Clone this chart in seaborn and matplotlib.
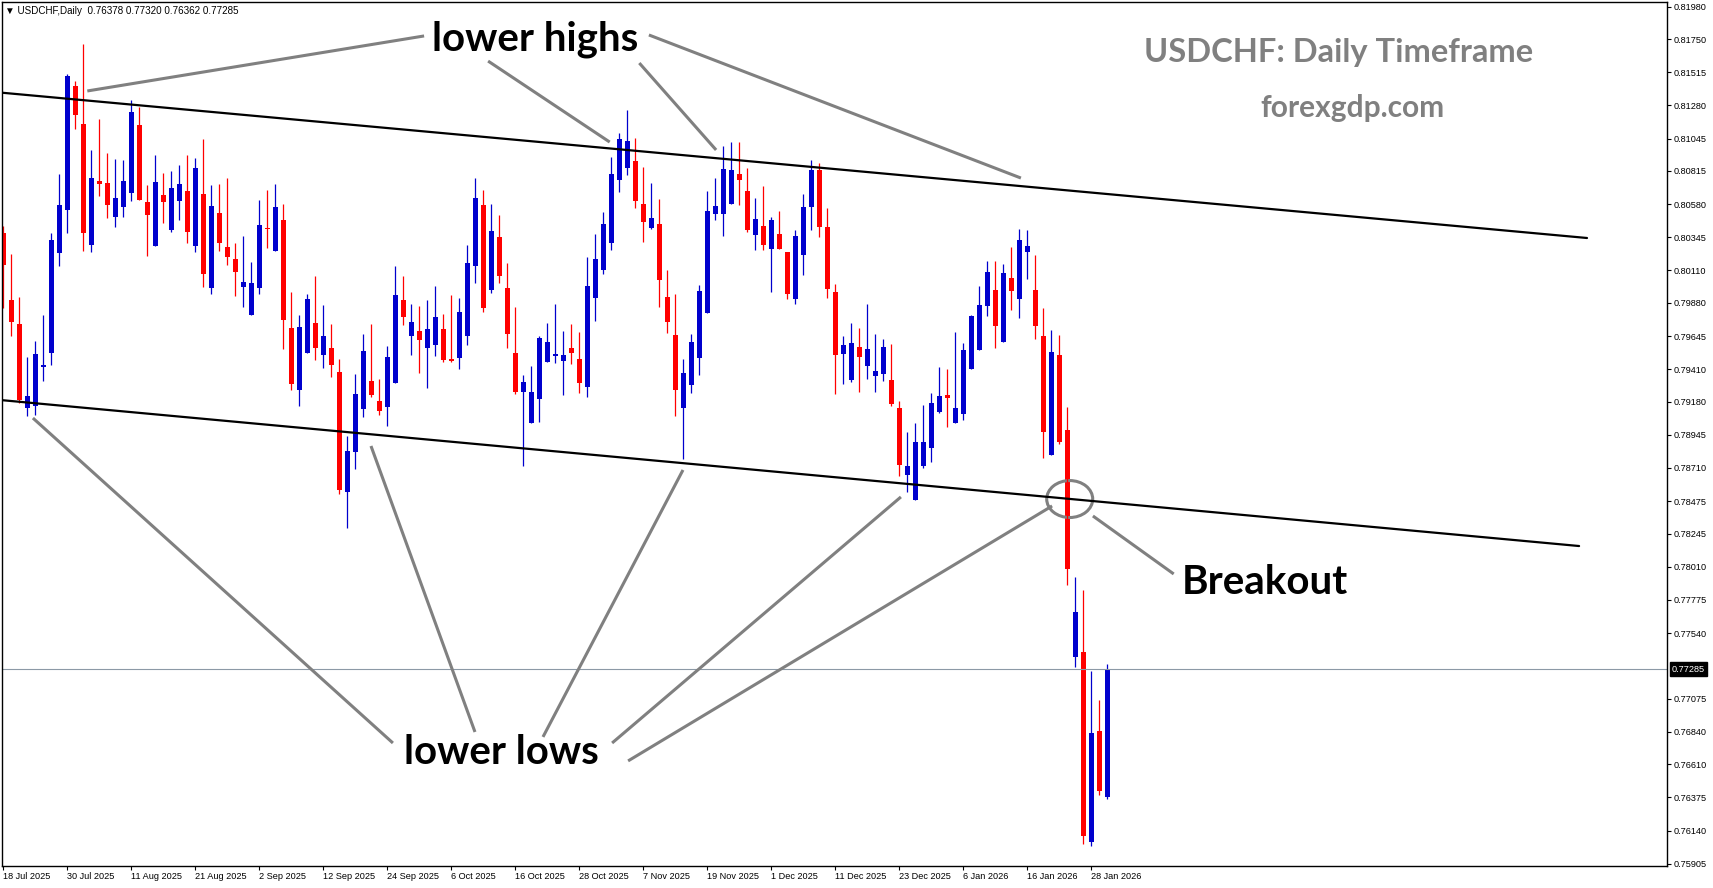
import numpy as np
import matplotlib
matplotlib.use("Agg")
import matplotlib.pyplot as plt
import matplotlib.transforms as mtransforms
from matplotlib.patches import Ellipse
import seaborn as sns

# Daily candles USDCHF, 18 Jul 2025 -> 30 Jan 2026
opens = [0.80378, 0.79901, 0.79731, 0.79138, 0.79152, 0.79429, 0.79528, 0.80236, 0.80541, 0.81417,
         0.81148, 0.80293, 0.80744, 0.80730, 0.80491, 0.80562, 0.80662, 0.81141, 0.80595, 0.80286,
         0.80645, 0.80399, 0.80605, 0.80673, 0.80286, 0.80652, 0.79988, 0.80517, 0.80276, 0.80191,
         0.79995, 0.79797, 0.79988, 0.80411, 0.80250, 0.80468, 0.79702, 0.79265, 0.79528, 0.79740,
         0.79514, 0.79561, 0.79391, 0.78543, 0.78826, 0.79131, 0.79327, 0.79188, 0.79145, 0.79315,
         0.79901, 0.79648, 0.79681, 0.79563, 0.79584, 0.79695, 0.79483, 0.79492, 0.79648, 0.80144,
         0.80574, 0.79974, 0.80347, 0.79986, 0.79525, 0.79251, 0.79032, 0.79202, 0.79464, 0.79506,
         0.79471, 0.79561, 0.79483, 0.79287, 0.79917, 0.80116, 0.80307, 0.80754, 0.80839, 0.80886,
         0.80581, 0.80413, 0.80439, 0.79922, 0.79653, 0.79138, 0.79301, 0.79492, 0.79811, 0.80513,
         0.80513, 0.80584, 0.80794, 0.80673, 0.80364, 0.80425, 0.80265, 0.80369, 0.80241, 0.79910,
         0.80220, 0.80560, 0.80820, 0.80420, 0.79957, 0.79518, 0.79336, 0.79568, 0.79435, 0.79365,
         0.79379, 0.79334, 0.79135, 0.78663, 0.78486, 0.78727, 0.78854, 0.79109, 0.79228, 0.79031,
         0.79096, 0.79412, 0.79548, 0.79861, 0.79972, 0.79600, 0.80058, 0.79910, 0.80243, 0.79972,
         0.79645, 0.78800, 0.79511, 0.78982, 0.77368, 0.77408, 0.76056, 0.76848, 0.76378]
highs = [0.80425, 0.80227, 0.79922, 0.79499, 0.79610, 0.79795, 0.80376, 0.80794, 0.81502, 0.81453,
         0.81715, 0.80964, 0.81184, 0.80943, 0.80900, 0.80893, 0.81316, 0.81269, 0.80716, 0.80928,
         0.80803, 0.80815, 0.80857, 0.80928, 0.80907, 0.81042, 0.80716, 0.80723, 0.80765, 0.80305,
         0.80354, 0.80170, 0.80609, 0.80680, 0.80723, 0.80581, 0.79958, 0.79795, 0.79946, 0.80073,
         0.79865, 0.79733, 0.79483, 0.78940, 0.79377, 0.79662, 0.79733, 0.79341, 0.79575, 0.80142,
         0.80071, 0.79873, 0.79861, 0.79901, 0.80000, 0.79802, 0.79936, 0.79915, 0.80291, 0.80765,
         0.80680, 0.80581, 0.80503, 0.80163, 0.79851, 0.79369, 0.79433, 0.79646, 0.79738, 0.79873,
         0.79681, 0.79731, 0.79674, 0.80206, 0.80369, 0.80525, 0.80914, 0.81084, 0.81247, 0.81049,
         0.80843, 0.80730, 0.80617, 0.80114, 0.79943, 0.79483, 0.79660, 0.80007, 0.80673, 0.80765,
         0.80992, 0.81021, 0.81021, 0.80836, 0.80624, 0.80709, 0.80489, 0.80532, 0.80241, 0.80397,
         0.80650, 0.80890, 0.80870, 0.80550, 0.80014, 0.79646, 0.79738, 0.79702, 0.79872, 0.79660,
         0.79624, 0.79589, 0.79185, 0.78965, 0.79029, 0.79157, 0.79242, 0.79426, 0.79412, 0.79674,
         0.79597, 0.79793, 0.80001, 0.80180, 0.80180, 0.80155, 0.80277, 0.80405, 0.80396, 0.80220,
         0.79844, 0.79688, 0.79654, 0.79144, 0.77935, 0.77844, 0.77274, 0.77064, 0.77320]
lows = [0.79842, 0.79648, 0.79169, 0.79081, 0.79088, 0.79329, 0.79440, 0.80144, 0.80378, 0.81113,
        0.80251, 0.80243, 0.80640, 0.80484, 0.80421, 0.80491, 0.80605, 0.80612, 0.80215, 0.80286,
        0.80449, 0.80385, 0.80470, 0.80307, 0.80243, 0.79995, 0.79946, 0.80250, 0.80151, 0.79932,
        0.79854, 0.79797, 0.79946, 0.80272, 0.80250, 0.79556, 0.79265, 0.79152, 0.79528, 0.79478,
        0.79421, 0.79358, 0.78529, 0.78288, 0.78706, 0.79074, 0.79216, 0.79088, 0.79010, 0.79315,
        0.79726, 0.79514, 0.79386, 0.79280, 0.79506, 0.79464, 0.79464, 0.79414, 0.79584, 0.80024,
        0.79818, 0.79953, 0.80024, 0.79563, 0.79237, 0.78727, 0.79032, 0.79039, 0.79464, 0.79457,
        0.79230, 0.79450, 0.79244, 0.79216, 0.79755, 0.80088, 0.80258, 0.80669, 0.80789, 0.80555,
        0.80314, 0.80406, 0.79854, 0.79669, 0.79081, 0.78777, 0.79244, 0.79372, 0.79811, 0.80470,
        0.80357, 0.80584, 0.80576, 0.80385, 0.80258, 0.80258, 0.79960, 0.80265, 0.79910, 0.79875,
        0.80080, 0.80400, 0.80350, 0.79917, 0.79235, 0.79305, 0.79322, 0.79251, 0.79343, 0.79251,
        0.79329, 0.79152, 0.78656, 0.78543, 0.78486, 0.78713, 0.78755, 0.79102, 0.79003, 0.79031,
        0.79053, 0.79412, 0.79548, 0.79785, 0.79557, 0.79600, 0.79833, 0.79770, 0.80052, 0.79622,
        0.78780, 0.78800, 0.78882, 0.77878, 0.77300, 0.76042, 0.76028, 0.76395, 0.76362]
closes = [0.80151, 0.79747, 0.79192, 0.79221, 0.79518, 0.79440, 0.80326, 0.80574, 0.81488, 0.81214,
          0.80378, 0.80765, 0.80725, 0.80577, 0.80624, 0.80744, 0.81233, 0.80612, 0.80506, 0.80737,
          0.80598, 0.80695, 0.80723, 0.80385, 0.80836, 0.80087, 0.80567, 0.80307, 0.80208, 0.80102,
          0.80028, 0.80021, 0.80432, 0.80406, 0.80560, 0.79762, 0.79308, 0.79710, 0.79908, 0.79563,
          0.79646, 0.79443, 0.78557, 0.78831, 0.79235, 0.79540, 0.79230, 0.79117, 0.79497, 0.79936,
          0.79783, 0.79745, 0.79620, 0.79695, 0.79780, 0.79478, 0.79471, 0.79816, 0.80163, 0.80624,
          0.79847, 0.80390, 0.80073, 0.79662, 0.79251, 0.79320, 0.79249, 0.79632, 0.79603, 0.79518,
          0.79511, 0.79528, 0.79315, 0.80000, 0.80191, 0.80439, 0.80794, 0.81042, 0.81028, 0.80605,
          0.80456, 0.80482, 0.80045, 0.79747, 0.79266, 0.79384, 0.79603, 0.79965, 0.80532, 0.80567,
          0.80829, 0.80822, 0.80754, 0.80399, 0.80475, 0.80293, 0.80468, 0.80265, 0.79946, 0.80354,
          0.80560, 0.80820, 0.80420, 0.79979, 0.79511, 0.79582, 0.79596, 0.79497, 0.79553, 0.79398,
          0.79568, 0.79166, 0.78734, 0.78724, 0.78894, 0.78894, 0.79171, 0.79220, 0.79209, 0.79135,
          0.79546, 0.79785, 0.79864, 0.80101, 0.79719, 0.80092, 0.79961, 0.80325, 0.80283, 0.79713,
          0.78962, 0.79531, 0.78891, 0.77992, 0.77690, 0.76099, 0.76833, 0.76418, 0.77285]

date_labels = ["18 Jul 2025", "30 Jul 2025", "11 Aug 2025", "21 Aug 2025", "2 Sep 2025",
               "12 Sep 2025", "24 Sep 2025", "6 Oct 2025", "16 Oct 2025", "28 Oct 2025",
               "7 Nov 2025", "19 Nov 2025", "1 Dec 2025", "11 Dec 2025", "23 Dec 2025",
               "6 Jan 2026", "16 Jan 2026", "28 Jan 2026"]
price_ticks = [0.81980, 0.81750, 0.81515, 0.81280, 0.81045, 0.80815, 0.80580, 0.80345, 0.80110,
               0.79880, 0.79645, 0.79410, 0.79180, 0.78945, 0.78710, 0.78475, 0.78245, 0.78010,
               0.77775, 0.77540, 0.77075, 0.76840, 0.76610, 0.76375, 0.76140, 0.75905]
last_price = 0.77285

# channel lines (bar index, price)
upper_channel = ([-0.41, 197.96], [0.81371, 0.80340])
lower_channel = ([-0.41, 196.97], [0.79192, 0.78157])

# annotation pointers (bar index, price)
highs_text = (66.5, 0.81750)
highs_arrows = [((52.6, 0.81772), (10.5, 0.81382)),
                ((60.6, 0.81594), (75.8, 0.81020)),
                ((79.5, 0.81580), (89.1, 0.80964)),
                ((80.7, 0.81779), (127.2, 0.80765))]
lows_text = (62.2, 0.76697)
lows_arrows = [((48.7, 0.76761), (3.7, 0.79064)),
               ((58.96, 0.76839), (45.96, 0.78866)),
               ((67.46, 0.76804), (84.96, 0.78696)),
               ((76.1, 0.76761), (112.2, 0.78505)),
               ((78.1, 0.76634), (131.1, 0.78441))]
breakout_text = (157.7, 0.77895)
breakout_arrow = ((146.3, 0.77959), (136.2, 0.78370))
breakout_circle = (133.3, 0.78490)

sns.set_theme(style="white")
plt.rcParams['font.family'] = ['Liberation Sans', 'DejaVu Sans']

fig = plt.figure(figsize=(17.13, 8.88), dpi=100)
ax = fig.add_axes([2 / 1713, 22 / 888, 1665 / 1713, 864 / 888])

o = np.array(opens)
h = np.array(highs)
l = np.array(lows)
c = np.array(closes)
x = np.arange(len(o))
colors = np.where(c >= o, "#0000CD", "#FF0000")

ax.vlines(x, l, h, colors=colors, lw=0.9)
ax.bar(x, np.maximum(np.abs(c - o), 0.00008), bottom=np.minimum(o, c),
       width=0.62, color=colors, linewidth=0)

ax.plot(*upper_channel, color="black", lw=1.6)
ax.plot(*lower_channel, color="black", lw=1.6)
ax.axhline(last_price, color="#8c99a6", lw=0.8)

gray = "#808080"
for (x0, y0), (x1, y1) in highs_arrows + lows_arrows + [breakout_arrow]:
    ax.plot([x0, x1], [y0, y1], color=gray, lw=2.2, solid_capstyle="butt")
ax.add_patch(Ellipse(breakout_circle, width=5.75, height=0.00262, fill=False,
                     edgecolor=gray, lw=2.2))

big = dict(family=["Lato", "DejaVu Sans"], fontweight="bold", color="black",
           ha="center", va="center", fontsize=29)
ax.text(*highs_text, "lower highs", **big)
ax.text(*lows_text, "lower lows", **big)
ax.text(*breakout_text, "Breakout", **big)

fig.text(1225 * 1.0925 / 1713, 1 - 48 * 1.0925 / 888, "USDCHF: Daily Timeframe",
         family=["Lato", "DejaVu Sans"], fontweight="bold", color=gray, fontsize=23.5,
         ha="center", va="center")
fig.text(1238 * 1.0925 / 1713, 1 - 99 * 1.0925 / 888, "forexgdp.com",
         family=["Lato", "DejaVu Sans"], fontweight="bold", color=gray, fontsize=21.5,
         ha="center", va="center")
fig.text(5 / 1713, 1 - 11 / 888, "\u25bc USDCHF,Daily  0.76378 0.77320 0.76362 0.77285",
         fontsize=7.1, ha="left", va="center", color="black")

ax.set_xlim(-0.1625, 207.96)
ax.set_ylim(0.758893, 0.820126)

ax.set_xticks(np.arange(0, 8 * len(date_labels), 8))
ax.set_xticklabels(date_labels, ha="left")
ax.yaxis.tick_right()
ax.set_yticks(price_ticks)
ax.set_yticklabels([f"{v:.5f}" for v in price_ticks])
ax.tick_params(axis="x", bottom=True, direction="out", length=3, width=0.8,
               labelsize=6.6, pad=1.5, colors="black")
ax.tick_params(axis="y", right=True, left=False, labelright=True, labelleft=False,
               direction="out", length=3, width=0.8, labelsize=6.6, pad=1.5, colors="black")
for s in ax.spines.values():
    s.set_color("black")
    s.set_linewidth(1)

tr = mtransforms.blended_transform_factory(ax.transAxes, ax.transData)
ax.text(1.003, last_price, "0.77285", transform=tr, ha="left", va="center", fontsize=6.6,
        color="white", bbox=dict(boxstyle="square,pad=0.25", fc="black", ec="black"))

fig.savefig("out.png", dpi=100)
